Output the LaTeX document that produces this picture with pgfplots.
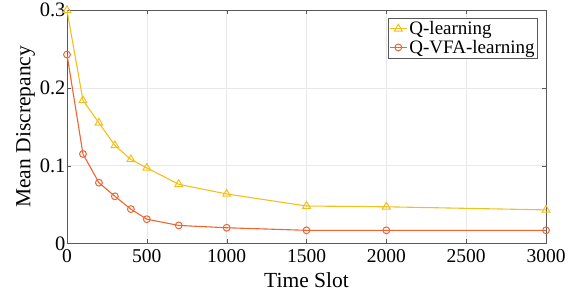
\documentclass[border=0pt]{standalone}
\usepackage{pgfplots}
\pgfplotsset{compat=1.18}
\usepackage{fontspec}
\setmainfont{Liberation Serif}
\definecolor{qyel}{RGB}{242,192,30}
\definecolor{qorg}{RGB}{238,100,50}
\begin{document}
\begin{tikzpicture}
\begin{axis}[
  name=ax,
  scale only axis,
  width=479pt, height=233pt,
  xmin=0, xmax=3000, ymin=0, ymax=0.3,
  xtick={0,500,1000,1500,2000,2500,3000},
  ytick={0,0.1,0.2,0.3},
  yticklabels={0,0.1,0.2,0.3},
  scaled x ticks=false,
  /pgf/number format/assume math mode=true,
  /pgf/number format/set thousands separator={},
  tick label style={font=\fontsize{19.5}{21}\selectfont},
  yticklabel style={xshift=2pt, font=\fontsize{20.5}{22}\selectfont},
  xticklabel style={yshift=-2.5pt},
  label style={font=\fontsize{21.5}{23}\selectfont},
  xlabel={Time Slot}, ylabel={Mean Discrepancy},
  xlabel style={yshift=-3pt},
  ylabel style={yshift=-2pt},
  grid=major, major grid style={gray!18, line width=0.6pt},
  axis line style={gray!70!black, line width=0.6pt},
  tick style={gray!70!black},
  tick align=inside, major tick length=4pt,
  legend style={at={(0.983,0.966)}, anchor=north east, font=\fontsize{19}{20}\selectfont, draw=gray!70!black, inner sep=1pt, row sep=0pt},
  legend cell align=left,
]
\addplot[qyel, line width=1.1pt, mark=triangle, mark size=4.5pt, mark options={solid, line width=1pt}] coordinates {
 (0,0.300) (100,0.184) (200,0.155) (300,0.126) (400,0.108) (500,0.097) (700,0.076) (1000,0.0635) (1500,0.048) (2000,0.047) (3000,0.043)};
\addlegendentry{Q-learning}
\addplot[qorg, line width=1.1pt, mark=o, mark size=3.4pt, mark options={solid, line width=1pt}] coordinates {
 (0,0.243) (100,0.115) (200,0.078) (300,0.0605) (400,0.044) (500,0.031) (700,0.023) (1000,0.020) (1500,0.0167) (2000,0.0167) (3000,0.0167)};
\addlegendentry{Q-VFA-learning}
\end{axis}
\path (ax.south west) ++(-67pt,-57pt) (ax.north east) ++(37pt,8pt);
\end{tikzpicture}
\end{document}
